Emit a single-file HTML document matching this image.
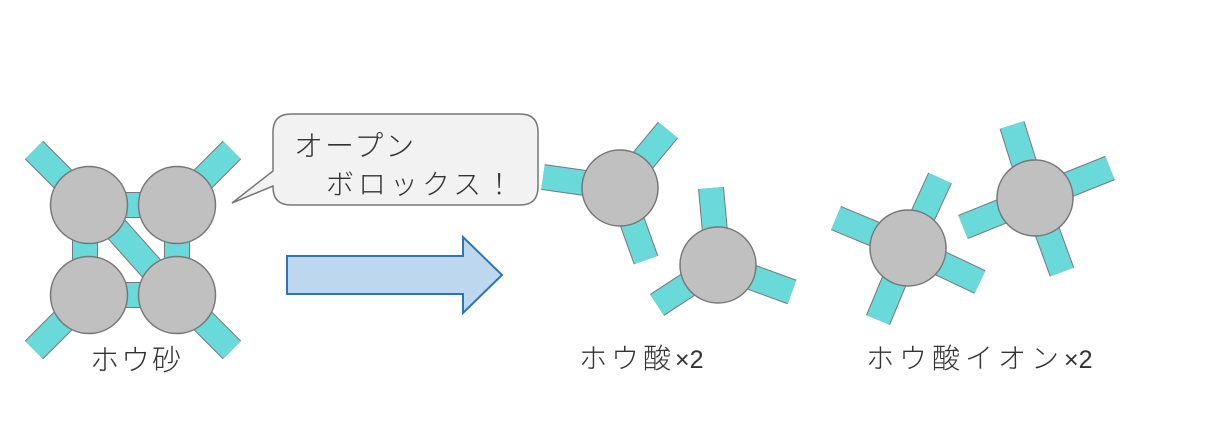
<!DOCTYPE html>
<html><head><meta charset="utf-8"><style>
html,body{margin:0;padding:0;background:#fff;width:1208px;height:425px;overflow:hidden}
text{font-family:"Liberation Sans","Noto Sans CJK JP",sans-serif;fill:#333;font-weight:300}
</style></head><body>
<svg width="1208" height="425" viewBox="0 0 1208 425" xmlns="http://www.w3.org/2000/svg">
<g stroke-linecap="butt">
<g stroke="#777" stroke-width="26">
<line x1="89" y1="205" x2="34" y2="150"/>
<line x1="177" y1="205" x2="232" y2="150"/>
<line x1="89" y1="295" x2="34" y2="350"/>
<line x1="177" y1="295" x2="232" y2="350"/>
<line x1="89" y1="205" x2="177" y2="205"/>
<line x1="89" y1="295" x2="177" y2="295"/>
<line x1="85" y1="205" x2="85" y2="295"/>
<line x1="177" y1="205" x2="177" y2="295"/>
<line x1="110" y1="222" x2="160" y2="278"/>
</g>
<g stroke="#6AD9DA" stroke-width="24">
<line x1="89" y1="205" x2="34" y2="150"/>
<line x1="177" y1="205" x2="232" y2="150"/>
<line x1="89" y1="295" x2="34" y2="350"/>
<line x1="177" y1="295" x2="232" y2="350"/>
<line x1="89" y1="205" x2="177" y2="205"/>
<line x1="89" y1="295" x2="177" y2="295"/>
<line x1="85" y1="205" x2="85" y2="295"/>
<line x1="177" y1="205" x2="177" y2="295"/>
<line x1="110" y1="222" x2="160" y2="278"/>
</g>
<g stroke="#777" stroke-width="26">
<line x1="620" y1="188" x2="668" y2="130"/>
<line x1="620" y1="188" x2="543" y2="177"/>
<line x1="620" y1="188" x2="646" y2="260"/>
<line x1="718" y1="265" x2="711" y2="188"/>
<line x1="718" y1="265" x2="657" y2="305"/>
<line x1="718" y1="265" x2="792" y2="292"/>
<line x1="908" y1="248" x2="940" y2="178"/>
<line x1="908" y1="248" x2="836" y2="218"/>
<line x1="908" y1="248" x2="980" y2="282"/>
<line x1="908" y1="248" x2="878" y2="320"/>
<line x1="1035" y1="198" x2="1012" y2="125"/>
<line x1="1035" y1="198" x2="1110" y2="168"/>
<line x1="1035" y1="198" x2="963" y2="227"/>
<line x1="1035" y1="198" x2="1062" y2="272"/>
</g>
<g stroke="#6AD9DA" stroke-width="24">
<line x1="620" y1="188" x2="668" y2="130"/>
<line x1="620" y1="188" x2="543" y2="177"/>
<line x1="620" y1="188" x2="646" y2="260"/>
<line x1="718" y1="265" x2="711" y2="188"/>
<line x1="718" y1="265" x2="657" y2="305"/>
<line x1="718" y1="265" x2="792" y2="292"/>
<line x1="908" y1="248" x2="940" y2="178"/>
<line x1="908" y1="248" x2="836" y2="218"/>
<line x1="908" y1="248" x2="980" y2="282"/>
<line x1="908" y1="248" x2="878" y2="320"/>
<line x1="1035" y1="198" x2="1012" y2="125"/>
<line x1="1035" y1="198" x2="1110" y2="168"/>
<line x1="1035" y1="198" x2="963" y2="227"/>
<line x1="1035" y1="198" x2="1062" y2="272"/>
</g>
</g>
<g fill="#C0C0C0" stroke="#777" stroke-width="1.5">
<circle cx="89" cy="205" r="38.5"/>
<circle cx="177" cy="205" r="38.5"/>
<circle cx="89" cy="295" r="38.5"/>
<circle cx="177" cy="295" r="38.5"/>
<circle cx="620" cy="188" r="38"/>
<circle cx="718" cy="265" r="38"/>
<circle cx="908" cy="248" r="38"/>
<circle cx="1035" cy="198" r="38"/>
</g>
<path d="M291,114 H520 Q538,114 538,132 V187 Q538,205 520,205 H291 Q273,205 273,187 V186 L232,203 L273,171 V132 Q273,114 291,114 Z" fill="#F2F2F2" stroke="#777" stroke-width="1.5"/>
<text x="294" y="156" font-size="29" letter-spacing="2">オープン</text>
<text x="326" y="194" font-size="28" letter-spacing="4">ボロックス！</text>
<path d="M287,256 H463 V237 L502,275 L463,313 V294 H287 Z" fill="#BDD7EE" stroke="#2E75B6" stroke-width="2"/>
<text x="90" y="370" font-size="29" letter-spacing="2">ホウ砂</text>
<text x="579" y="368" font-size="28" letter-spacing="4">ホウ酸<tspan font-size="25" letter-spacing="0">×2</tspan></text>
<text x="866" y="368" font-size="28" letter-spacing="5">ホウ酸イオン<tspan font-size="25" letter-spacing="0">×2</tspan></text>
</svg>
</body></html>
